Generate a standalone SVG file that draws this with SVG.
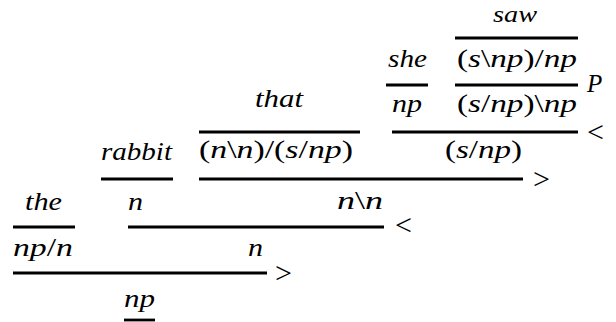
<svg xmlns="http://www.w3.org/2000/svg" width="616" height="322" viewBox="0 0 616 322">
<style>
  .t{font-family:"Liberation Serif","Times New Roman",serif;font-size:25px;font-style:italic;fill:#000}
  .u{font-style:normal}
  .op{font-family:"Liberation Serif","Times New Roman",serif;font-size:30px;fill:#000}
  .r{stroke:#000;stroke-width:2.8;fill:none}
</style>
<rect width="616" height="322" fill="#fff"/>
<g id="saw">
  <text class="t" x="493" y="22" font-size="24" textLength="44" lengthAdjust="spacingAndGlyphs" style="font-size:24px">saw</text>
  <text class="t" x="457" y="67" textLength="120" lengthAdjust="spacingAndGlyphs"><tspan class="u">(</tspan>s<tspan class="u">\</tspan>np<tspan class="u">)/</tspan>np</text>
  <text class="t" x="457" y="112" textLength="120" lengthAdjust="spacingAndGlyphs"><tspan class="u">(</tspan>s<tspan class="u">/</tspan>np<tspan class="u">)\</tspan>np</text>
  <text class="t" x="587" y="92">P</text>
</g>
<g id="she">
  <text class="t" x="388" y="67" textLength="39" lengthAdjust="spacingAndGlyphs">she</text>
  <text class="t" x="392" y="112" textLength="30" lengthAdjust="spacingAndGlyphs">np</text>
</g>
<g id="she-saw">
  <text class="t" x="445" y="158" textLength="77" lengthAdjust="spacingAndGlyphs"><tspan class="u">(</tspan>s<tspan class="u">/</tspan>np<tspan class="u">)</tspan></text>
  <text class="op" x="587" y="142">&lt;</text>
</g>
<g id="that">
  <text class="t" x="255" y="107" textLength="48" lengthAdjust="spacingAndGlyphs">that</text>
  <text class="t" x="199" y="158" textLength="154" lengthAdjust="spacingAndGlyphs"><tspan class="u">(</tspan>n<tspan class="u">\</tspan>n<tspan class="u">)/(</tspan>s<tspan class="u">/</tspan>np<tspan class="u">)</tspan></text>
</g>
<g id="that-clause">
  <text class="t" x="337" y="209" textLength="46" lengthAdjust="spacingAndGlyphs">n<tspan class="u">\</tspan>n</text>
  <text class="op" x="533" y="189">&gt;</text>
</g>
<g id="rabbit">
  <text class="t" x="101" y="160" textLength="71" lengthAdjust="spacingAndGlyphs">rabbit</text>
  <text class="t" x="128" y="210" textLength="15" lengthAdjust="spacingAndGlyphs">n</text>
</g>
<g id="rabbit-clause">
  <text class="t" x="248" y="256" textLength="15" lengthAdjust="spacingAndGlyphs">n</text>
  <text class="op" x="395" y="235">&lt;</text>
</g>
<g id="the">
  <text class="t" x="25" y="210" textLength="37" lengthAdjust="spacingAndGlyphs">the</text>
  <text class="t" x="13" y="256" textLength="60" lengthAdjust="spacingAndGlyphs">np<tspan class="u">/</tspan>n</text>
</g>
<g id="result">
  <text class="t" x="124" y="307" textLength="31" lengthAdjust="spacingAndGlyphs">np</text>
  <text class="op" x="275" y="283">&gt;</text>
</g>
<g id="connectors">
  <line class="r" x1="455" y1="38" x2="578" y2="38"/>
  <line class="r" x1="386" y1="85" x2="428" y2="85"/>
  <line class="r" x1="455" y1="85" x2="578" y2="85"/>
  <line class="r" x1="392" y1="132" x2="578" y2="132"/>
  <line class="r" x1="199" y1="132" x2="360" y2="132"/>
  <line class="r" x1="199" y1="179" x2="523" y2="179"/>
  <line class="r" x1="101" y1="179" x2="173" y2="179"/>
  <line class="r" x1="13" y1="227" x2="75" y2="227"/>
  <line class="r" x1="128" y1="227" x2="384" y2="227"/>
  <line class="r" x1="13" y1="273" x2="267" y2="273"/>
  <line class="r" x1="124" y1="320" x2="155" y2="320"/>
</g>
</svg>
